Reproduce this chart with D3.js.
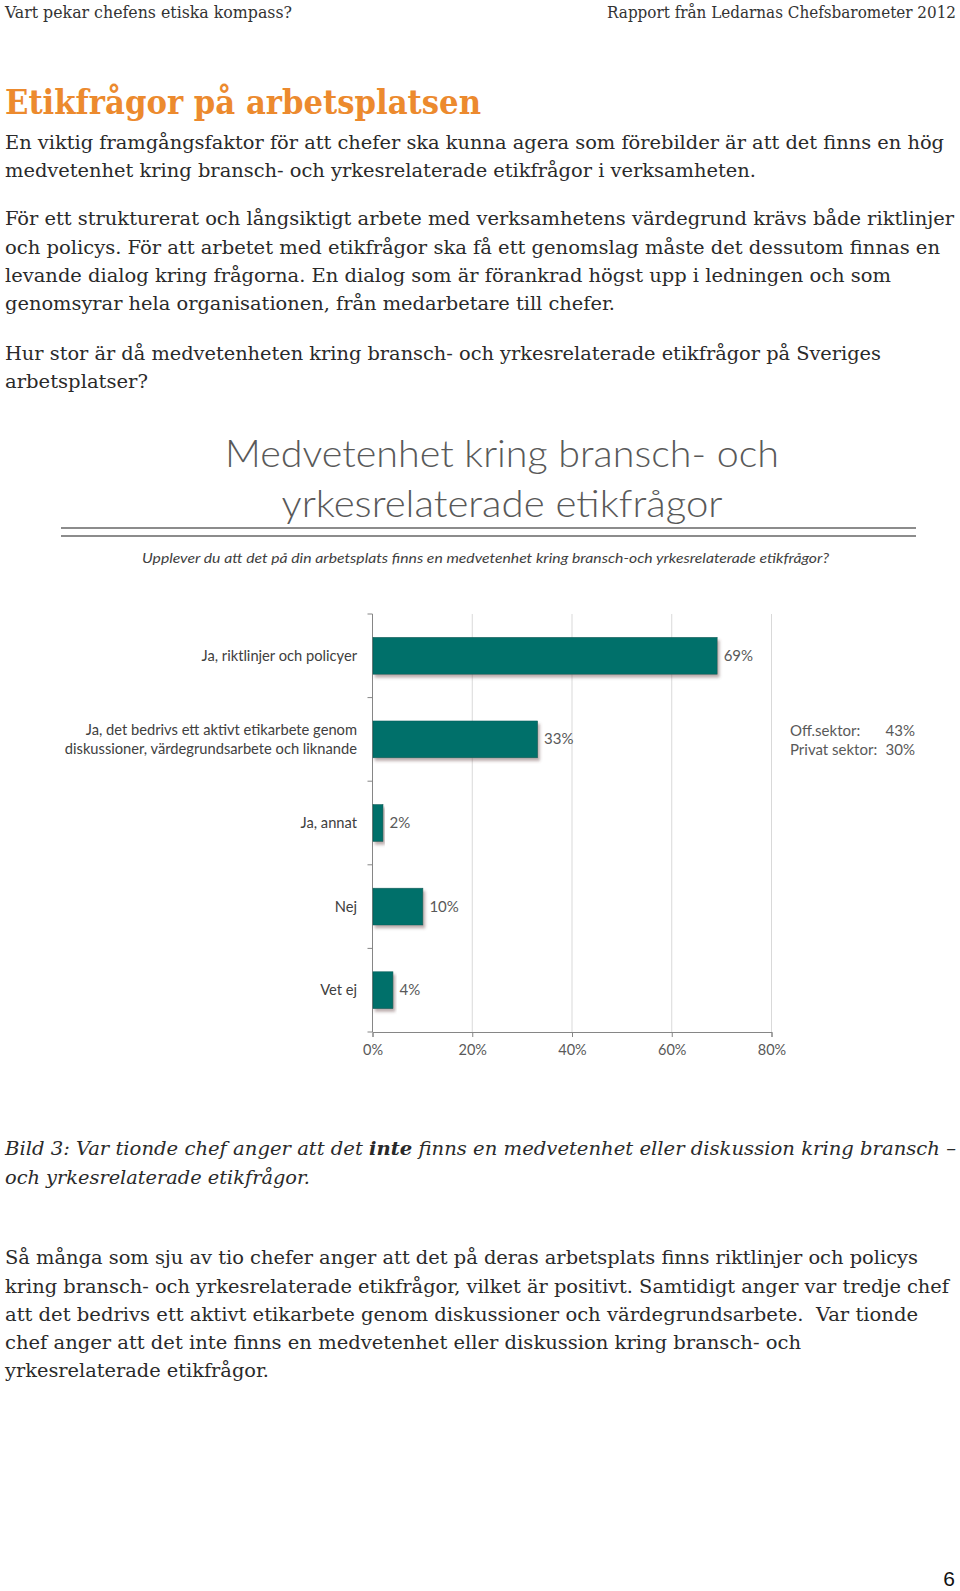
<!DOCTYPE html>
<html>
<head>
<meta charset="utf-8">
<script src="https://cdn.jsdelivr.net/npm/d3@7"></script>
<style>
  html, body { margin: 0; padding: 0; background: #fff; }
  svg { display: block; }
</style>
</head>
<body>
<script>
// ---------- DATA ----------
const categories = [
  "Ja, riktlinjer och policyer",
  "Ja, det bedrivs ett aktivt etikarbete genom|diskussioner, värdegrundsarbete och liknande",
  "Ja, annat",
  "Nej",
  "Vet ej"
];
const values = [69, 33, 2, 10, 4];
const xTicks = [0, 20, 40, 60, 80];
const noteLabels = ["Off.sektor:", "Privat sektor:"];
const noteValues = ["43%", "30%"];

const headerLeft = "Vart pekar chefens etiska kompass?";
const headerRight = "Rapport från Ledarnas Chefsbarometer 2012";
const pageTitle = "Etikfrågor på arbetsplatsen";
const introLines = [
  "En viktig framgångsfaktor för att chefer ska kunna agera som förebilder är att det finns en hög",
  "medvetenhet kring bransch- och yrkesrelaterade etikfrågor i verksamheten.",
  "För ett strukturerat och långsiktigt arbete med verksamhetens värdegrund krävs både riktlinjer",
  "och policys. För att arbetet med etikfrågor ska få ett genomslag måste det dessutom finnas en",
  "levande dialog kring frågorna. En dialog som är förankrad högst upp i ledningen och som",
  "genomsyrar hela organisationen, från medarbetare till chefer.",
  "Hur stor är då medvetenheten kring bransch- och yrkesrelaterade etikfrågor på Sveriges",
  "arbetsplatser?"
];
const chartTitleLines = ["Medvetenhet kring bransch- och", "yrkesrelaterade etikfrågor"];
const chartSubtitle = "Upplever du att det på din arbetsplats finns en medvetenhet kring bransch-och yrkesrelaterade etikfrågor?";
const captionLines = [
  ["Bild 3: Var tionde chef anger att det ", "inte", " finns en medvetenhet eller diskussion kring bransch –"],
  ["och yrkesrelaterade etikfrågor."]
];
const bodyLines = [
  "Så många som sju av tio chefer anger att det på deras arbetsplats finns riktlinjer och policys",
  "kring bransch- och yrkesrelaterade etikfrågor, vilket är positivt. Samtidigt anger var tredje chef",
  "att det bedrivs ett aktivt etikarbete genom diskussioner och värdegrundsarbete.  Var tionde",
  "chef anger att det inte finns en medvetenhet eller diskussion kring bransch- och",
  "yrkesrelaterade etikfrågor."
];
const pageNumber = "6";

// ---------- LAYOUT ----------
const W = 960, H = 1591;
const svg = d3.select("body").append("svg").attr("width", W).attr("height", H);
svg.append("rect").attr("width", W).attr("height", H).attr("fill", "#fff");

const serif = "'DejaVu Serif Condensed', 'DejaVu Serif', serif";
const chartFont = "Lato, 'Open Sans', sans-serif";
const textCol = "#2a2a2a";

function fitText(sel, width) {
  sel.attr("textLength", width).attr("lengthAdjust", "spacingAndGlyphs");
}

// header
svg.append("text").attr("x", 5).attr("y", 18).text(headerLeft)
  .attr("font-family", serif).attr("font-size", 16).attr("fill", "#333")
  .call(fitText, 287);
svg.append("text").attr("x", 956).attr("y", 18).attr("text-anchor", "end").text(headerRight)
  .attr("font-family", serif).attr("font-size", 16).attr("fill", "#333")
  .call(fitText, 349);

// page title
svg.append("text").attr("x", 5).attr("y", 114).text(pageTitle)
  .attr("font-family", "'DejaVu Serif', serif").attr("font-weight", "bold")
  .attr("font-size", 33).attr("fill", "#EC8A2E")
  .call(fitText, 476);

// intro paragraphs
const introBase = [149, 176.5, 225, 254, 282, 310, 360, 388];
const introW = [939, 751, 949, 935, 886, 610, 876, 143];
introLines.forEach((t, i) => {
  svg.append("text").attr("x", 5).attr("y", introBase[i]).text(t)
    .attr("font-family", serif).attr("font-size", 19).attr("fill", textCol)
    .call(fitText, introW[i]);
});

// chart title
const ctBase = [467, 517];
const ctW = [554, 441];
chartTitleLines.forEach((t, i) => {
  svg.append("text").attr("x", 502).attr("y", ctBase[i]).attr("text-anchor", "middle").text(t)
    .attr("font-family", chartFont).attr("font-weight", 300)
    .attr("font-size", 37).attr("fill", "#595959")
    .call(fitText, ctW[i]);
});
// double rules
[528, 536].forEach(y => {
  svg.append("line").attr("x1", 61).attr("x2", 916).attr("y1", y).attr("y2", y)
    .attr("stroke", "#8c8c8c").attr("stroke-width", 2);
});
// subtitle
svg.append("text").attr("x", 485.5).attr("y", 563).attr("text-anchor", "middle").text(chartSubtitle)
  .attr("font-family", chartFont).attr("font-style", "italic")
  .attr("font-size", 14).attr("fill", "#404040")
  .call(fitText, 687);

// ---------- CHART ----------
const plotTop = 614, plotBottom = 1032;
const x = d3.scaleLinear().domain([0, 80]).range([372.5, 771.5]);
const y = d3.scaleBand().domain(categories).range([plotTop, plotBottom])
  .paddingInner(0.56).paddingOuter(0.28);
const step = y.step();

const defs = svg.append("defs");
const f = defs.append("filter").attr("id", "shadow")
  .attr("x", "-10%").attr("y", "-20%").attr("width", "130%").attr("height", "160%");
f.append("feDropShadow").attr("dx", 2).attr("dy", 3).attr("stdDeviation", 1.6)
  .attr("flood-color", "#6b4b4b").attr("flood-opacity", 0.45);

const chart = svg.append("g");

// gridlines
chart.append("g").selectAll("line").data(xTicks.filter(d => d > 0)).join("line")
  .attr("x1", d => x(d)).attr("x2", d => x(d))
  .attr("y1", plotTop).attr("y2", plotBottom)
  .attr("stroke", "#d9d9d9").attr("stroke-width", 1);

// x axis
const xAxis = d3.axisBottom(x).tickValues(xTicks).tickFormat(d => d + "%").tickSize(5).tickPadding(8);
const gx = chart.append("g").attr("transform", `translate(0,${plotBottom})`).call(xAxis);
gx.select(".domain").attr("stroke", "#868686");
gx.selectAll(".tick line").attr("stroke", "#868686");
gx.selectAll(".tick text").attr("font-family", chartFont).attr("font-size", 14.5).attr("fill", "#595959");

// y axis line + boundary ticks
const boundaries = d3.range(categories.length + 1).map(i => plotTop + i * step);
chart.append("line").attr("x1", x(0)).attr("x2", x(0)).attr("y1", plotTop).attr("y2", plotBottom)
  .attr("stroke", "#868686");
chart.append("g").selectAll("line").data(boundaries).join("line")
  .attr("x1", x(0) - 5).attr("x2", x(0)).attr("y1", d => d).attr("y2", d => d)
  .attr("stroke", "#868686");

// bars
const data = categories.map((c, i) => ({ c, v: values[i] }));
chart.append("g").selectAll("rect").data(data).join("rect")
  .attr("x", x(0) + 0.5).attr("y", d => y(d.c))
  .attr("width", d => x(d.v) - x(0)).attr("height", y.bandwidth())
  .attr("fill", "#00706A").attr("stroke", "#0d5e58").attr("stroke-width", 0.6)
  .attr("filter", "url(#shadow)");

// value labels
chart.append("g").selectAll("text").data(data).join("text")
  .attr("x", d => x(d.v) + 7).attr("y", d => y(d.c) + y.bandwidth() / 2 + 5)
  .text(d => d.v + "%")
  .attr("font-family", chartFont).attr("font-size", 15).attr("fill", "#595959");

// category labels
data.forEach(d => {
  const lines = d.c.split("|");
  const cy = y(d.c) + y.bandwidth() / 2;
  const lh = 19;
  lines.forEach((ln, j) => {
    chart.append("text")
      .attr("x", 357).attr("y", cy + 5 + (j - (lines.length - 1) / 2) * lh)
      .attr("text-anchor", "end").text(ln)
      .attr("font-family", chartFont).attr("font-size", 14.7).attr("fill", "#404040");
  });
});

// note
noteLabels.forEach((t, i) => {
  chart.append("text").attr("x", 790).attr("y", 736 + i * 19).text(t)
    .attr("font-family", chartFont).attr("font-size", 15).attr("fill", "#595959");
  chart.append("text").attr("x", 915).attr("y", 736 + i * 19).attr("text-anchor", "end").text(noteValues[i])
    .attr("font-family", chartFont).attr("font-size", 15).attr("fill", "#595959");
});

// caption (italic)
const capBase = [1155, 1184];
const capW = [951, 305];
captionLines.forEach((parts, i) => {
  const t = svg.append("text").attr("x", 5).attr("y", capBase[i])
    .attr("font-family", serif).attr("font-style", "italic")
    .attr("font-size", 19).attr("fill", textCol);
  parts.forEach((p, k) => {
    t.append("tspan").text(p).attr("font-weight", (i === 0 && k === 1) ? "bold" : null);
  });
  t.call(fitText, capW[i]);
});

// body
const bodyBase = [1264, 1292.5, 1321, 1348.5, 1377];
const bodyW = [913, 944, 913, 796, 264];
bodyLines.forEach((t, i) => {
  svg.append("text").attr("x", 5).attr("y", bodyBase[i]).text(t)
    .attr("font-family", serif).attr("font-size", 19).attr("fill", textCol)
    .style("white-space", "pre")
    .call(fitText, bodyW[i]);
});

// page number
svg.append("text").attr("x", 955).attr("y", 1586).attr("text-anchor", "end").text(pageNumber)
  .attr("font-family", "'Liberation Sans', Arial, sans-serif").attr("font-size", 21).attr("fill", "#111");
</script>
</body>
</html>
